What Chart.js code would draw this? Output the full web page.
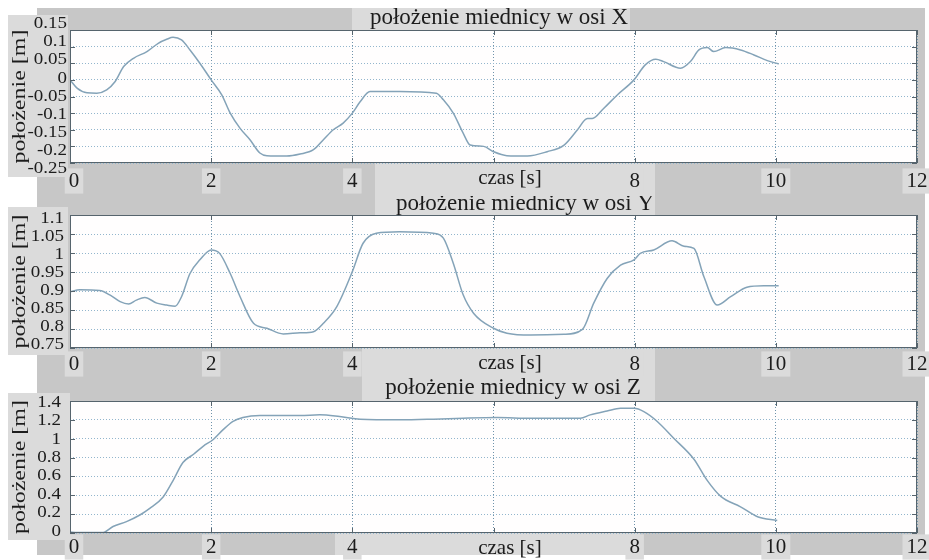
<!DOCTYPE html>
<html lang="pl">
<head>
<meta charset="utf-8">
<title>Położenie miednicy</title>
<script src="https://cdn.jsdelivr.net/npm/chart.js@4.4.1/dist/chart.umd.min.js"></script>
<style>
  html, body { margin: 0; padding: 0; background: #fff; }
  #fig { position: relative; width: 929px; height: 560px; overflow: hidden; }
  #fig canvas { position: absolute; left: 0; }
</style>
</head>
<body>
<div id="fig">
  <canvas id="wykresX" width="929" height="196"></canvas>
  <canvas id="wykresY" width="929" height="181"></canvas>
  <canvas id="wykresZ" width="929" height="183"></canvas>
</div>
<script>
// czas [s] i położenie miednicy [m] w osi X
const czasX = [0, 0.10, 0.24, 0.38, 0.52, 0.64, 0.76, 0.90, 1.09, 1.25, 1.37, 1.46, 1.58, 1.70, 1.84, 2.00,
  2.15, 2.27, 2.41, 2.55, 2.69, 2.79, 3.07, 3.26, 3.45, 3.59, 3.73, 3.87, 4.00, 4.11, 4.25, 4.67, 5.19,
  5.29, 5.43, 5.57, 5.67, 5.86, 6.00, 6.19, 6.48, 6.76, 7.00, 7.19, 7.33, 7.40, 7.56, 7.75, 7.99, 8.15,
  8.30, 8.41, 8.65, 8.79, 8.91, 9.03, 9.12, 9.29, 9.50, 9.69, 9.88, 10.04];
const polX = [0.000, -0.025, -0.039, -0.040, -0.030, -0.005, 0.040, 0.065, 0.085, 0.110, 0.122, 0.128, 0.120,
  0.090, 0.050, 0.000, -0.045, -0.100, -0.146, -0.180, -0.220, -0.228, -0.229, -0.223, -0.210, -0.180,
  -0.150, -0.130, -0.100, -0.066, -0.035, -0.035, -0.040, -0.060, -0.100, -0.160, -0.196, -0.200, -0.216,
  -0.228, -0.229, -0.216, -0.196, -0.150, -0.116, -0.116, -0.086, -0.046, 0.000, 0.045, 0.062, 0.055,
  0.035, 0.055, 0.090, 0.097, 0.085, 0.097, 0.090, 0.075, 0.058, 0.048];

// oś Y
const czasY = [0, 0.14, 0.42, 0.57, 0.71, 0.83, 0.94, 1.06, 1.23, 1.37, 1.49, 1.58, 1.70, 1.84, 2.00, 2.12,
  2.27, 2.41, 2.60, 2.79, 3.02, 3.26, 3.45, 3.59, 3.78, 4.00, 4.15, 4.34, 4.67, 5.15, 5.29, 5.43, 5.57,
  5.72, 6.00, 6.19, 6.53, 7.00, 7.26, 7.42, 7.61, 7.80, 7.99, 8.08, 8.27, 8.53, 8.70, 8.84, 8.98, 9.17,
  9.36, 9.59, 9.83, 10.04];
const polY = [0.898, 0.903, 0.901, 0.889, 0.872, 0.866, 0.876, 0.883, 0.868, 0.863, 0.860, 0.885, 0.946,
  0.982, 1.008, 0.999, 0.946, 0.885, 0.815, 0.802, 0.787, 0.790, 0.793, 0.815, 0.859, 0.951, 1.025, 1.052,
  1.056, 1.052, 1.039, 0.973, 0.890, 0.841, 0.802, 0.789, 0.784, 0.786, 0.799, 0.868, 0.933, 0.968, 0.982,
  0.999, 1.008, 1.032, 1.018, 1.012, 0.938, 0.863, 0.885, 0.910, 0.914, 0.914];

// oś Z
const czasZ = [0, 0.10, 0.47, 0.61, 0.80, 0.99, 1.13, 1.32, 1.46, 1.60, 1.75, 1.89, 2.03, 2.17, 2.31, 2.45,
  2.69, 3.26, 3.54, 3.82, 4.11, 4.67, 5.15, 5.57, 6.05, 6.53, 7.23, 7.37, 7.61, 7.80, 7.99, 8.13, 8.32,
  8.55, 8.84, 9.03, 9.22, 9.50, 9.74, 10.02];
const polZ = [0.010, 0.006, 0.006, 0.069, 0.121, 0.191, 0.261, 0.382, 0.556, 0.747, 0.835, 0.922, 0.992,
  1.096, 1.183, 1.224, 1.245, 1.245, 1.253, 1.235, 1.207, 1.200, 1.207, 1.217, 1.224, 1.217, 1.217, 1.253,
  1.294, 1.322, 1.322, 1.287, 1.183, 1.008, 0.783, 0.556, 0.389, 0.278, 0.173, 0.132];

const tytuly = ['położenie miednicy w osi X', 'położenie miednicy w osi Y', 'położenie miednicy w osi Z'];
const opisOsiX = 'czas [s]';
const opisOsiY = 'położenie [m]';
const etykietyCzas = [0, 2, 4, 8, 10, 12]; // 6 s przykrywa napis "czas [s]"

const SZARY = '#c7c7c7', JASNY = '#dbdbdb', RAMKA = '#56646d', TEKST = '#1c1c1c';
const CZCIONKA = '"Liberation Serif", "Times New Roman", serif';

// układ trzech paneli (współrzędne strony)
const panele = [
  { id: 'wykresX', top: 0, h: 196, plotTop: 30, plotBottom: 163, czas: czasX, dane: polX,
    min: -0.25, max: 0.15, krok: 0.05, tytul: tytuly[0], tytulPoz: [499, 18],
    rozrzut: 1.09, yPrawa: 67, dyCzas: 18,
    pola: [[352, 8, 278, 22], [8, 15, 60, 162], [375, 163, 280, 40]] },
  { id: 'wykresY', top: 196, h: 181, plotTop: 215, plotBottom: 348, czas: czasY, dane: polY,
    min: 0.75, max: 1.1, krok: 0.05, tytul: tytuly[1], tytulPoz: [525, 204],
    rozrzut: 0.95, yPrawa: 64, dyCzas: 16,
    pola: [[375, 190, 280, 25], [8, 207, 60, 148], [362, 348, 293, 40]] },
  { id: 'wykresZ', top: 377, h: 183, plotTop: 401, plotBottom: 533, czas: czasZ, dane: polZ,
    min: 0, max: 1.4, krok: 0.2, tytul: tytuly[2], tytulPoz: [513, 388],
    rozrzut: 0.98, yPrawa: 61, dyCzas: 14,
    pola: [[362, 370, 293, 31], [8, 393, 62, 147], [335, 533, 305, 22]] }
];

function napis(ctx, s, x, y, px, o = {}) {
  ctx.save();
  ctx.translate(x, y);
  if (o.obrot) ctx.rotate(o.obrot);
  ctx.scale(o.sx || 1, o.sy || 1);
  ctx.font = px + 'px ' + CZCIONKA;
  ctx.fillStyle = TEKST;
  ctx.textAlign = o.align || 'center';
  ctx.textBaseline = 'middle';
  ctx.fillText(s, 0, 0);
  ctx.restore();
}

// jasne tło pod napisem
function polePod(ctx, s, x, y, px, align) {
  ctx.save();
  ctx.font = px + 'px ' + CZCIONKA;
  const w = ctx.measureText(s).width;
  const x0 = align === 'right' ? x - w : x - w / 2;
  ctx.fillStyle = JASNY;
  ctx.fillRect(x0 - 4, y - px * 0.6, w + 8, px * 1.2);
  ctx.restore();
}

const fmt = v => String(parseFloat(v.toFixed(2)));

function ramka(p) {
  return {
    id: 'ramka',
    beforeDraw(chart) {
      const ctx = chart.ctx, a = chart.chartArea;
      ctx.save();
      ctx.translate(0, -p.top);
      ctx.fillStyle = SZARY;
      ctx.fillRect(37, 8, 888, 547);
      ctx.fillStyle = JASNY;
      p.pola.forEach(([x, y, w, h]) => ctx.fillRect(x, y, w, h));
      ctx.restore();
      ctx.fillStyle = '#fffefe';
      ctx.fillRect(a.left, a.top, a.right - a.left, a.bottom - a.top);
    },
    afterDraw(chart) {
      const ctx = chart.ctx, a = chart.chartArea;
      const sx = chart.scales.x, sy = chart.scales.y;

      // ramka osi i krótkie znaczniki do wewnątrz
      ctx.save();
      ctx.strokeStyle = RAMKA;
      ctx.lineWidth = 1;
      ctx.strokeRect(a.left + 0.5, a.top + 0.5, a.right - a.left - 1, a.bottom - a.top - 1);
      ctx.beginPath();
      sx.ticks.forEach(t => {
        const x = Math.round(sx.getPixelForValue(t.value)) + 0.5;
        ctx.moveTo(x, a.bottom); ctx.lineTo(x, a.bottom - 5);
        ctx.moveTo(x, a.top); ctx.lineTo(x, a.top + 5);
      });
      sy.ticks.forEach(t => {
        const y = Math.round(sy.getPixelForValue(t.value)) + 0.5;
        ctx.moveTo(a.left, y); ctx.lineTo(a.left + 5, y);
        ctx.moveTo(a.right, y); ctx.lineTo(a.right - 5, y);
      });
      ctx.stroke();
      ctx.restore();

      ctx.save();
      ctx.translate(0, -p.top);
      const top = a.top + p.top, bottom = a.bottom + p.top, mid = (top + bottom) / 2;

      // tytuł
      napis(ctx, p.tytul, p.tytulPoz[0], p.tytulPoz[1], 23);

      // opisy osi czasu
      etykietyCzas.forEach(v => {
        const x = sx.getPixelForValue(v) + (v === 0 ? 4 : 0);
        const y = bottom + p.dyCzas;
        polePod(ctx, String(v), x, y, 21, 'center');
        napis(ctx, String(v), x, y, 21);
      });
      napis(ctx, opisOsiX, 510, bottom + 15, 21);

      // opisy osi położenia
      sy.ticks.forEach(t => {
        const y = mid + (sy.getPixelForValue(t.value) + p.top - mid) * p.rozrzut;
        napis(ctx, fmt(t.value), p.yPrawa, y, 19, { align: 'right', sy: 0.85 });
      });
      napis(ctx, opisOsiY, 20, mid, 24, { obrot: -Math.PI / 2, sy: 0.8 });
      ctx.restore();
    }
  };
}

panele.forEach(p => {
  const el = document.getElementById(p.id);
  el.style.top = p.top + 'px';
  new Chart(el, {
    type: 'line',
    data: {
      datasets: [{
        data: p.czas.map((t, i) => ({ x: t, y: p.dane[i] })),
        borderColor: '#84a3b8',
        borderWidth: 1.5,
        pointRadius: 0,
        cubicInterpolationMode: 'monotone',
        fill: false
      }]
    },
    options: {
      responsive: false,
      animation: false,
      events: [],
      layout: {
        autoPadding: false,
        padding: { left: 70, right: 12, top: p.plotTop - p.top, bottom: p.top + p.h - p.plotBottom }
      },
      plugins: { legend: { display: false }, tooltip: { enabled: false }, title: { display: false } },
      scales: {
        x: {
          type: 'linear', min: 0, max: 12,
          ticks: { display: false, stepSize: 2 },
          grid: { color: '#6f93ab', drawTicks: false, lineWidth: 1 },
          border: { display: false, dash: [1, 2] }
        },
        y: {
          type: 'linear', min: p.min, max: p.max,
          ticks: { display: false, stepSize: p.krok },
          grid: { color: '#93b6cd', drawTicks: false, lineWidth: 1 },
          border: { display: false, dash: [1, 2] }
        }
      }
    },
    plugins: [ramka(p)]
  });
});
</script>
</body>
</html>
